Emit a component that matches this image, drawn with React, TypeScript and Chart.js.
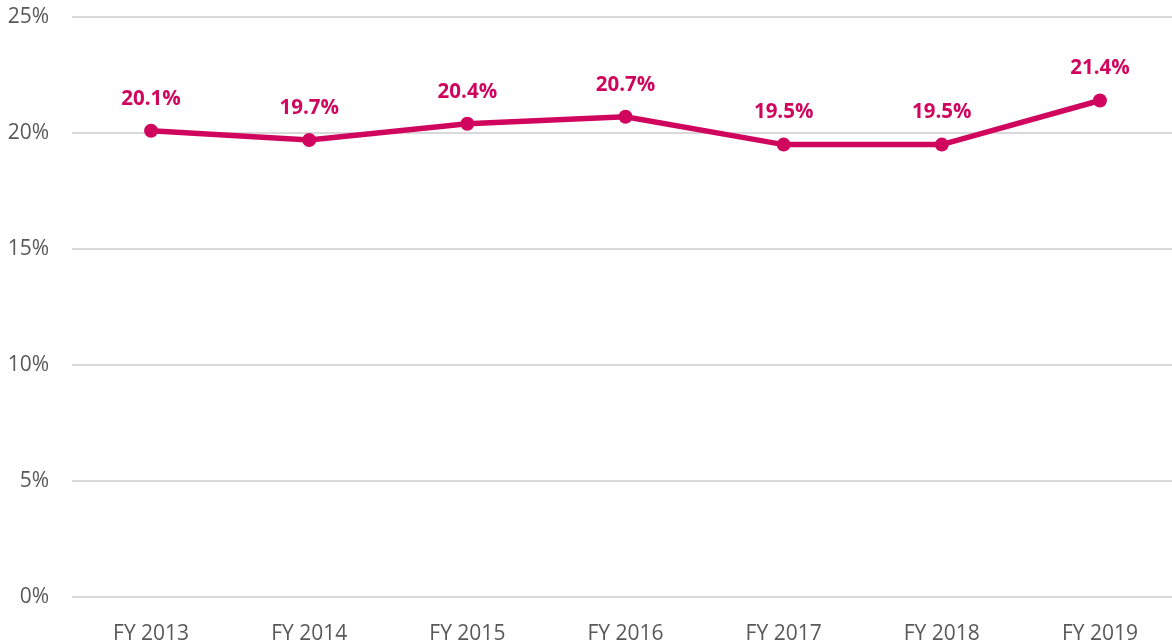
import React, { useEffect, useRef } from "react";
import { Chart, registerables } from "chart.js";

Chart.register(...registerables);

const categories = ["FY 2013", "FY 2014", "FY 2015", "FY 2016", "FY 2017", "FY 2018", "FY 2019"];
const values = [20.1, 19.7, 20.4, 20.7, 19.5, 19.5, 21.4];
const yTicks = [0, 5, 10, 15, 20, 25];

const LINE = "#D0065E";
const FONT = "'Open Sans', 'Liberation Sans', sans-serif";

const labelPlugin = {
  id: "pointLabels",
  afterDatasetsDraw(chart: any) {
    const ctx = chart.ctx;
    const meta = chart.getDatasetMeta(0);
    ctx.save();
    ctx.fillStyle = LINE;
    ctx.font = `bold 20.5px ${FONT}`;
    ctx.textAlign = "center";
    ctx.textBaseline = "middle";
    meta.data.forEach((pt: any, i: number) => {
      ctx.fillText(values[i].toFixed(1) + "%", pt.x, pt.y - 32);
    });
    ctx.restore();
  },
};

export default function App() {
  const ref = useRef<HTMLCanvasElement>(null);
  useEffect(() => {
    const chart = new Chart(ref.current!, {
      type: "line",
      data: {
        labels: categories,
        datasets: [
          {
            data: values,
            borderColor: LINE,
            backgroundColor: LINE,
            borderWidth: 5.5,
            pointRadius: 7,
            pointHoverRadius: 7,
            pointBackgroundColor: LINE,
            pointBorderWidth: 0,
            tension: 0,
          },
        ],
      },
      options: {
        responsive: false,
        animation: false,
        layout: { padding: { top: 17, left: 0, right: 0, bottom: 0 } },
        plugins: { legend: { display: false }, tooltip: { enabled: false } },
        scales: {
          x: {
            offset: true,
            grid: { display: false },
            border: { display: false },
            ticks: { color: "#595959", font: { family: FONT, size: 21 }, padding: 16 },
            afterFit: (s: any) => {
              s.height = 46;
            },
          },
          y: {
            min: 0,
            max: 25,
            afterBuildTicks: (s: any) => {
              s.ticks = yTicks.map((v) => ({ value: v }));
            },
            grid: { color: "#d9d9d9", lineWidth: 2, drawTicks: false },
            border: { display: false },
            ticks: {
              color: "#595959",
              font: { family: FONT, size: 21 },
              padding: 23,
              callback: (v: any) => v + "%",
            },
            afterFit: (s: any) => {
              s.width = 72;
              s.paddingTop = 0;
              s.paddingBottom = 0;
            },
          },
        },
      },
      plugins: [labelPlugin],
    });
    return () => chart.destroy();
  }, []);
  return (
    <div style={{ position: "fixed", left: 0, top: 0, width: 1172, height: 643, overflow: "hidden", background: "#fff" }}>
      <canvas ref={ref} width={1186} height={643} style={{ display: "block" }} />
    </div>
  );
}
